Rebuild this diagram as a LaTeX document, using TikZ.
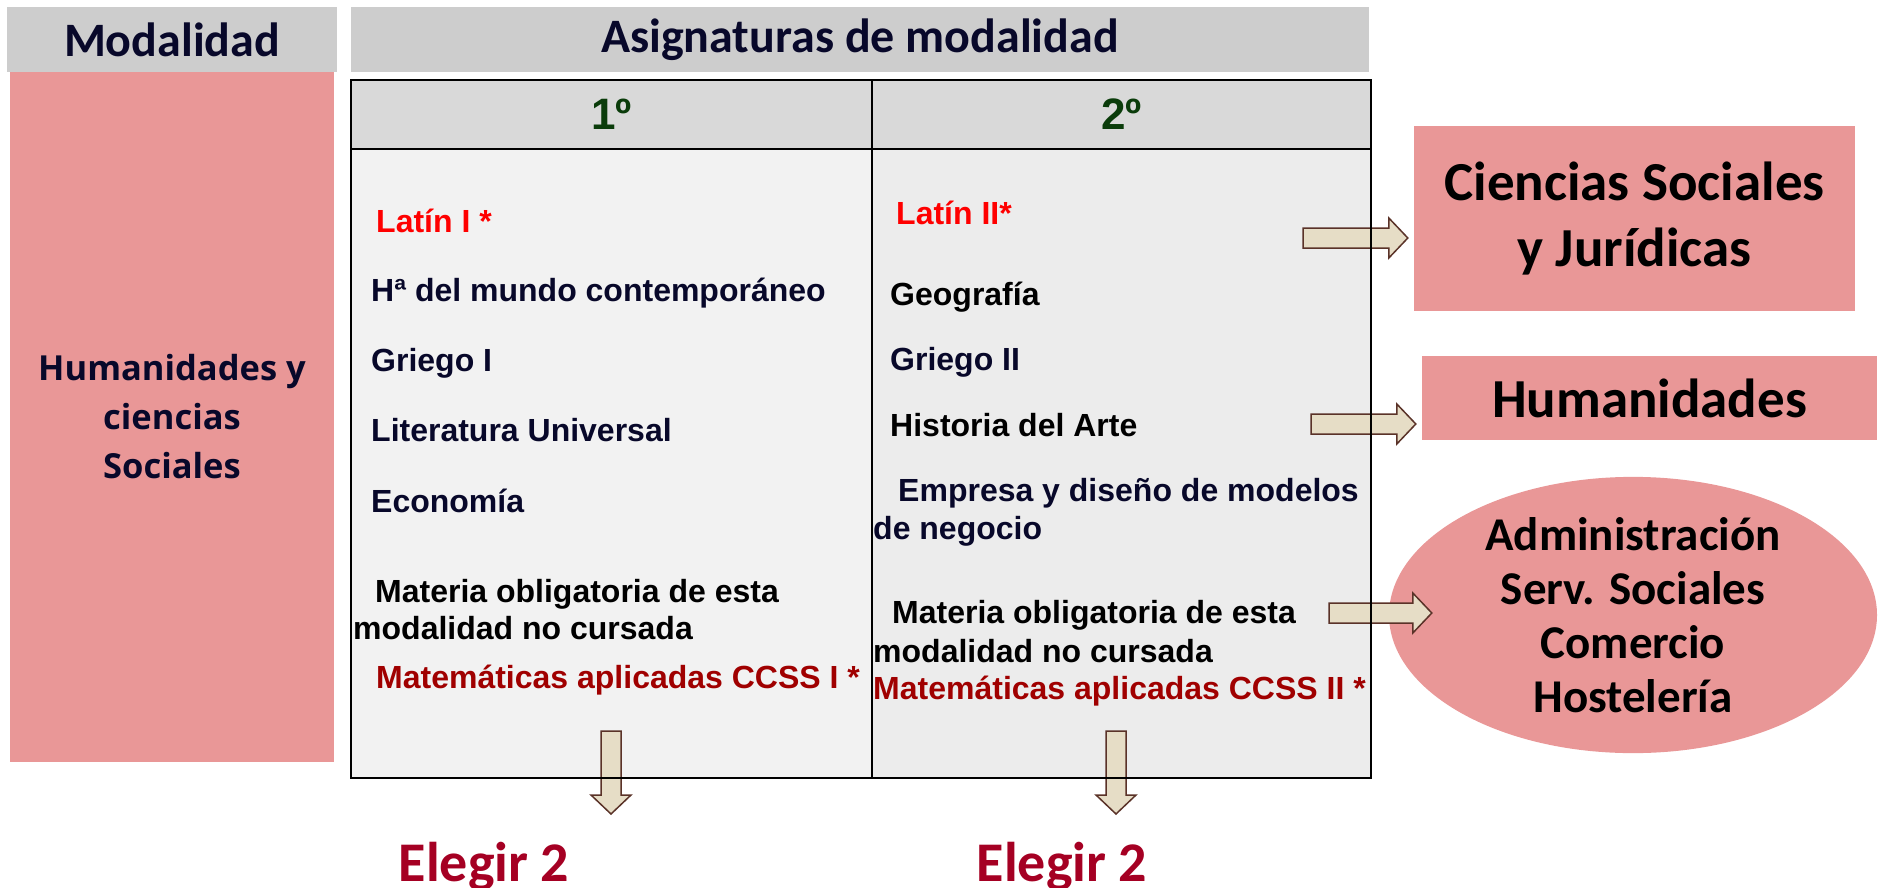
\documentclass[tikz,border=0pt]{standalone}
\usepackage{fontspec}
\setmainfont{Liberation Sans}
\newfontfamily\calibri{Carlito}
\newfontfamily\opensans{Open Sans}
\usetikzlibrary{calc,positioning,shapes.geometric}

\definecolor{rosa}{RGB}{233,151,151}
\definecolor{gris}{RGB}{205,205,205}
\definecolor{griscab}{RGB}{217,217,217}
\definecolor{fondouno}{RGB}{242,242,242}
\definecolor{fondodos}{RGB}{236,236,236}
\definecolor{marino}{RGB}{8,8,42}
\definecolor{verdeosc}{RGB}{10,60,10}
\definecolor{granate}{RGB}{160,0,0}
\definecolor{carmin}{RGB}{165,0,35}
\definecolor{crema}{RGB}{230,221,198}
\definecolor{marron}{RGB}{90,50,40}

\tikzset{
  cabecera/.style={fill=gris, inner sep=0pt, text=marino, font=\calibri\bfseries\fontsize{48}{56}\selectfont},
  curso/.style={fill=griscab, inner sep=0pt, text=verdeosc, font=\bfseries\fontsize{44}{50}\selectfont},
  rosabox/.style={fill=rosa, inner sep=0pt, align=center},
  salida/.style={rosabox, text=black, font=\calibri\bfseries\fontsize{55}{66}\selectfont},
  item/.style={anchor=base west, inner sep=0pt, font=\bfseries\fontsize{32}{38}\selectfont},
  elegir/.style={anchor=base, inner sep=0pt, text=carmin, font=\calibri\bfseries\fontsize{56}{64}\selectfont},
  bloque/.style={fill=crema, draw=marron, line width=1.5pt, line join=miter},
  borde/.style={draw=black, line width=2.5pt}
}

% flecha de bloque: #1 cola, #2 punta
\newcommand{\flecha}[2]{%
  \coordinate (fb) at ($(#2)!19pt!(#1)$);
  \draw[bloque] ($(#1)!10pt!90:(#2)$) -- ($(fb)!10pt!90:(#2)$)
    -- ($(fb)!20pt!90:(#2)$) -- (#2) -- ($(fb)!20pt!-90:(#2)$)
    -- ($(fb)!10pt!-90:(#2)$) -- ($(#1)!10pt!-90:(#2)$) -- cycle;
}

\begin{document}
\begin{tikzpicture}[x=1pt,y=-1pt]
  \useasboundingbox (0,0) rectangle (1878,888);

  % cabeceras
  \node[cabecera, minimum width=330pt, minimum height=65pt] (mod) at (172,39.5) {Modalidad};
  \node[cabecera, minimum width=1018pt, minimum height=65pt] (asig) at (860,39.5) {Asignaturas de modalidad};
  \node[rosabox, minimum width=324pt, minimum height=690pt, text=marino,
        font=\opensans\bfseries\fontsize{34.5}{49}\selectfont] (hcs) at (172,417) {Humanidades y\\ciencias\\Sociales};

  % tabla
  \fill[fondouno] (351,149) rectangle (872,778);
  \fill[fondodos] (872,149) rectangle (1371,778);
  \node[curso, minimum width=521pt, minimum height=69pt] (uno) at (611.5,114.5) {1º};
  \node[curso, minimum width=499pt, minimum height=69pt] (dos) at (1121.5,114.5) {2º};

  % primero
  \node[item, text=red] (lat1) at (376,232) {Latín I *};
  \node[item, text=marino] (hmc1) at (371,301) {Hª del mundo contemporáneo};
  \node[item, text=marino] (gri1) at (371,371) {Griego I};
  \node[item, text=marino] (lit1) at (371,441) {Literatura Universal};
  \node[item, text=marino] (eco1) at (371,512) {Economía};
  \node[item] (mat1a) at (375,602) {Materia obligatoria de esta};
  \node[item] (mat1b) at (353,639) {modalidad no cursada};
  \node[item, text=granate] (ccss1) at (376,688) {Matemáticas aplicadas CCSS I *};

  % segundo
  \node[item, text=red] (lat2) at (896,224) {Latín II*};
  \node[item] (geo2) at (890,305) {Geografía};
  \node[item, text=marino] (gri2) at (890,370) {Griego II};
  \node[item] (art2) at (890,436) {Historia del Arte};
  \node[item, text=marino] (emp2a) at (898,501) {Empresa y diseño de modelos};
  \node[item, text=marino] (emp2b) at (873,539) {de negocio};
  \node[item] (mat2a) at (892,623) {Materia obligatoria de esta};
  \node[item] (mat2b) at (873,662) {modalidad no cursada};
  \node[item, text=granate] (ccss2) at (873,699) {Matemáticas aplicadas CCSS II *};

  % salidas
  \node[salida, minimum width=441pt, minimum height=185pt] (ccsj) at (1634.5,218.5) {Ciencias Sociales\\y Jurídicas};
  \node[salida, minimum width=455pt, minimum height=84pt] (hum) at (1649.5,398) {Humanidades};
  \node[ellipse, fill=rosa, inner sep=0pt, minimum width=488pt, minimum height=220pt, align=center,
        font=\calibri\bfseries\fontsize{47}{54}\selectfont] (adm) at (1633,615) {Administración\\Serv. Sociales\\Comercio\\Hostelería};

  \node[elegir] (el1) at (484,881) {Elegir 2};
  \node[elegir] (el2) at (1062,881) {Elegir 2};

  % flechas
  \coordinate (t1) at (1303,238);
  \coordinate (p1) at ($(t1 -| ccsj.west)+(-6,0)$);
  \coordinate (t2) at (1311,424);
  \coordinate (p2) at ($(t2 -| hum.west)+(-6,0)$);
  \coordinate (t3) at (1329,613);
  \coordinate (p3) at ($(t3 -| adm.west)+(43,0)$);
  \coordinate (b1) at (611,731);
  \coordinate (q1) at (611,814);
  \coordinate (b2) at (1116,731);
  \coordinate (q2) at (1116,814);
  \flecha{t1}{p1}
  \flecha{t2}{p2}
  \flecha{t3}{p3}
  \flecha{b1}{q1}
  \flecha{b2}{q2}

  % bordes
  \draw[borde] (351,80) rectangle (1371,778);
  \draw[borde] (uno.south west) -- (dos.south east);
  \draw[borde] (uno.north east) -- (uno.north east |- 0,778);
\end{tikzpicture}
\end{document}
